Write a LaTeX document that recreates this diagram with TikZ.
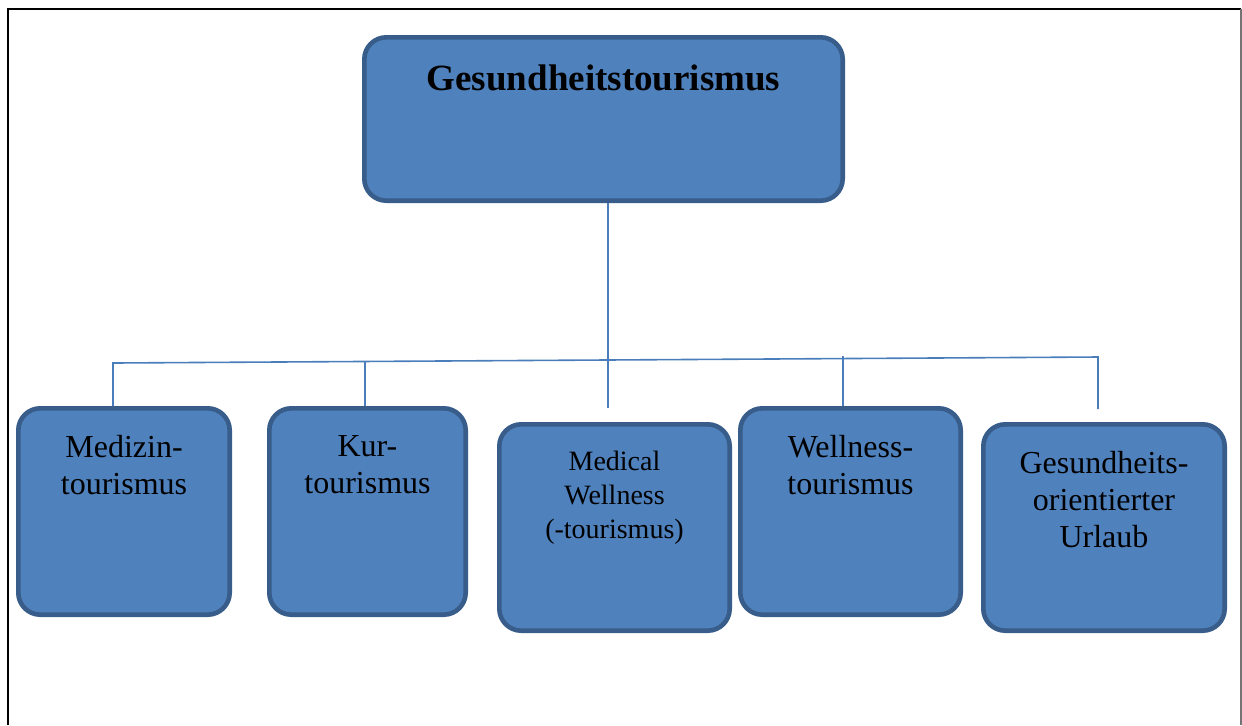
\documentclass[tikz,border=0pt]{standalone}
\usepackage{fontspec}
\setmainfont{Liberation Serif}
\usepackage{tikz}
\usetikzlibrary{positioning}

\definecolor{boxfill}{HTML}{4F81BD}
\definecolor{boxline}{HTML}{385D8A}
\definecolor{busline}{HTML}{4A7EBB}

\begin{document}
\begin{tikzpicture}[
		bluebox/.style={rectangle, rounded corners=11pt, draw=boxline, fill=boxfill, line width=2.3pt, outer sep=1.15pt, minimum height=103.2pt},
		boxtext/.style={align=center, inner sep=0pt, font=\fontsize{16}{18.5}\selectfont},
		bus/.style={draw=busline, line width=0.8pt},
		]
		\useasboundingbox (0,0) rectangle (621pt,-362.5pt);
		
		%Frame
		\draw[line width=1pt] (3.75pt,-362.5pt) -- (3.75pt,-4.65pt) -- (620.5pt,-4.65pt);
		\draw[black!55, line width=0.75pt] (620.5pt,-4.65pt) -- (620.5pt,-362.5pt);
		
		%Nodes
		\node[bluebox, minimum width=239.2pt, minimum height=81.7pt] (top) at (301.75pt,-59.5pt) {};
		\node[boxtext, font=\fontsize{18.5}{22}\bfseries] (ttop) [below=14.8pt of top.north] {Gesundheitstourismus};
		
		\node[bluebox, minimum width=105.7pt]   (m1) at (62pt,-255.75pt) {};
		\node[bluebox, minimum width=98.2pt]    (m2) [right=17.5pt of m1] {};
		\node[bluebox, minimum width=115.2pt]   (m3) [right=14.5pt of m2, yshift=-8pt] {};
		\node[bluebox, minimum width=110.2pt]   (m4) [right=3pt of m3, yshift=8pt] {};
		\node[bluebox, minimum width=120.7pt]   (m5) [right=9pt of m4, yshift=-8pt] {};
		
		\node[boxtext] (t1) [below=14.5pt of m1.north] {Medizin-\\tourismus};
		\node[boxtext] (t2) [below=14.5pt of m2.north] {Kur-\\tourismus};
		\node[boxtext, font=\fontsize{14}{17}\selectfont] (t3) [below=14.3pt of m3.north] {Medical\\Wellness\\(-tourismus)};
		\node[boxtext] (t4) [below=14.5pt of m4.north] {Wellness-\\tourismus};
		\node[boxtext] (t5) [below=14.5pt of m5.north] {Gesundheits-\\orientierter\\Urlaub};
		
		%Lines
		\coordinate (bl) at (56.5pt,-181.5pt);
		\coordinate (br) at (549pt,-178.5pt);
		\coordinate (b2) at (182.5pt,-180.75pt);
		\coordinate (b3) at (304pt,-204pt);
		\coordinate (b4) at (421.5pt,-178pt);
		\coordinate (b5) at (549pt,-204.5pt);
		
		\draw[bus] (bl |- m1.north) -- (bl) -- (br) -- (b5);
		\draw[bus] (b2) -- (b2 |- m2.north);
		\draw[bus] (b3 |- top.south) -- (b3);
		\draw[bus] (b4) -- (b4 |- m4.north);
\end{tikzpicture}
\end{document}
